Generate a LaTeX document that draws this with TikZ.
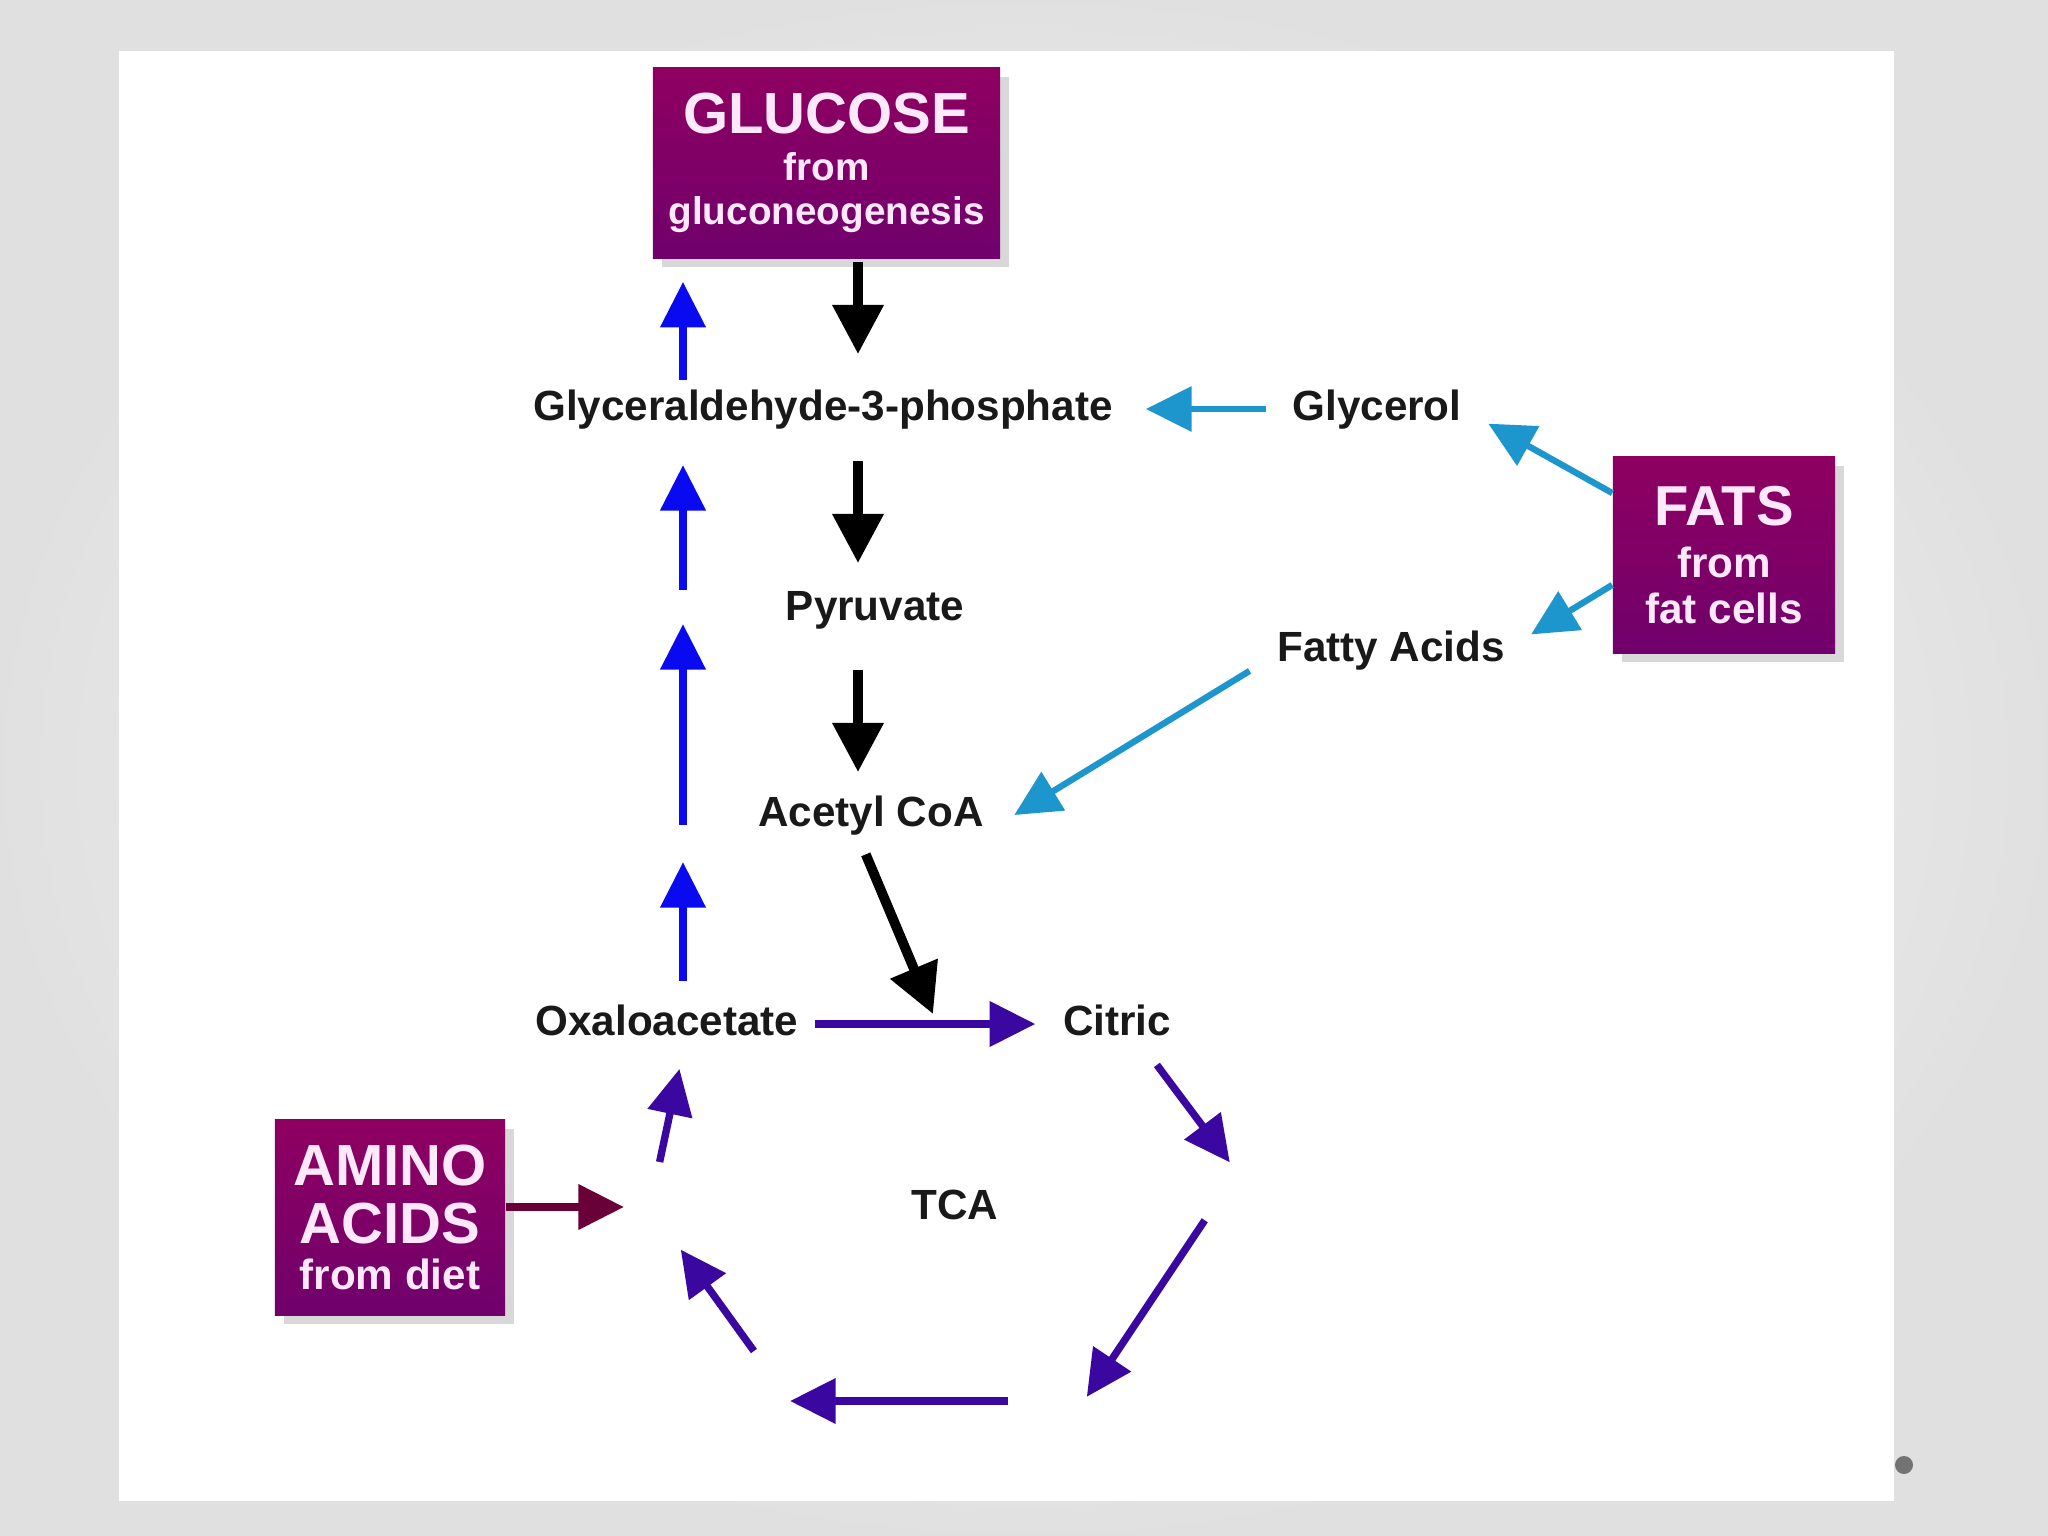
\documentclass[tikz,border=0pt]{standalone}
\usepackage{fontspec}
\setmainfont{Liberation Sans}
\usetikzlibrary{arrows.meta,shadows}

\definecolor{boxtop}{RGB}{142,0,96}
\definecolor{boxbot}{RGB}{112,0,108}
\definecolor{boxtext}{RGB}{255,232,250}
\definecolor{gnblue}{RGB}{10,10,240}
\definecolor{fatcyan}{RGB}{28,150,205}
\definecolor{tcaindigo}{RGB}{58,8,160}
\definecolor{aamaroon}{RGB}{105,0,55}

\begin{document}
\begin{tikzpicture}[x=0.01cm, y=-0.01cm, >={Triangle[length=13pt,width=12.5pt]},
  lbl/.style={font=\fontsize{12}{14}\selectfont\bfseries, text=black!90, inner sep=0pt, text height=9pt, text depth=2.5pt},
  pbox/.style={top color=boxtop, bottom color=boxbot, text=boxtext, align=center, inner sep=0pt,
    drop shadow={shadow xshift=2.5pt, shadow yshift=-2.5pt, opacity=0.3}},
  blk/.style={->, line width=2.8pt, black, >={Triangle[length=14pt,width=14pt]}},
  blu/.style={->, line width=2.3pt, gnblue},
  cyn/.style={->, line width=1.8pt, fatcyan},
  tcaarr/.style={->, line width=2.1pt, tcaindigo},
  aa/.style={->, line width=2.2pt, aamaroon}]
% slide background
\useasboundingbox (0,0) rectangle (2048,1536);
\shade[inner color=black!1, outer color=black!12] (0,0) rectangle (2048,1536);
\fill[white] (119,51) rectangle (1894,1501);
\fill[black!55] (1904,1465) circle (0.09cm);

% source boxes
\node[pbox, minimum width=3.47cm, minimum height=1.9cm, font=\fontsize{11}{12.5}\selectfont\bfseries] (glucose) at (826.5,163)
  {{\fontsize{16.5}{16.5}\selectfont GLUCOSE}\\[0.8pt]from\\gluconeogenesis};
\node[pbox, minimum width=2.22cm, minimum height=1.96cm, font=\fontsize{12}{13}\selectfont\bfseries] (fats) at (1724,555)
  {{\fontsize{16}{16}\selectfont FATS}\\[2pt]from\\fat cells};
\node[pbox, minimum width=2.3cm, minimum height=1.95cm, font=\fontsize{12}{13.3}\selectfont\bfseries] (amino) at (390,1217.5)
  {{\fontsize{16.5}{16.5}\selectfont AMINO}\\[3.2pt]{\fontsize{16.5}{16.5}\selectfont ACIDS}\\from diet};

% metabolites
\node[lbl] (g3p) at (823,409) {Glyceraldehyde-3-phosphate};
\node[lbl] (glycerol) at (1377,409) {Glycerol};
\node[lbl] (pyr) at (875,609) {Pyruvate};
\node[lbl] (fa) at (1391,650) {Fatty Acids};
\node[lbl] (accoa) at (871,815) {Acetyl CoA};
\node[lbl] (oxalo) at (667,1024) {Oxaloacetate};
\node[lbl] (citric) at (1117,1024) {Citric};
\node[lbl] (tca) at (955,1208) {TCA};

% helper points
\coordinate (blkx) at (858,0);
\coordinate (bluex) at (683,0);
\coordinate (gapA) at (683,843.5);
\coordinate (gapB) at (683,607);
\coordinate (join) at (933,1014);
\coordinate (v1) at (1237,1172);
\coordinate (v2) at (1084,1401);
\coordinate (v3) at (790,1401);
\coordinate (v4) at (650,1207);

% glycolysis
\draw[blk, shorten <=0.03cm, shorten >=0.34cm] (glucose.south -| blkx) -- (g3p.north -| blkx);
\draw[blk, shorten <=0.31cm, shorten >=0.25cm] (g3p.south -| blkx) -- (pyr.north -| blkx);
\draw[blk, shorten <=0.40cm, shorten >=0.22cm] (pyr.south -| blkx) -- (accoa.north -| blkx);
\draw[blk, shorten <=0.2cm] (accoa.south -| blkx) -- (join);

% gluconeogenesis
\draw[blu, shorten <=0.22cm, shorten >=0.185cm] (oxalo.north -| bluex) -- (gapA);
\draw[blu, shorten <=0.185cm, shorten >=0.17cm] (gapA) -- (gapB);
\draw[blu, shorten <=0.17cm, shorten >=0.35cm] (gapB) -- (g3p.south -| bluex);
\draw[blu, shorten <=0.08cm, shorten >=0.23cm] (g3p.north -| bluex) -- (glucose.south -| bluex);

% fats
\draw[cyn, shorten <=0.255cm, shorten >=0.325cm] (glycerol.west) -- (g3p.east);
\draw[cyn, shorten >=0.3cm] (fats.151) -- (glycerol.east);
\draw[cyn, shorten >=0.3cm] (fats.195) -- (fa.east);
\draw[cyn] ([xshift=-0.27cm]fa.south west) -- ([xshift=0.3cm]accoa.east);

% TCA cycle
\draw[tcaarr, shorten <=0.16cm, shorten >=0.27cm] (oxalo.east) -- (citric.west);
\draw[tcaarr, shorten <=0.25cm, shorten >=0.12cm] (citric.-40) -- (v1);
\draw[tcaarr, shorten <=0.58cm, shorten >=0.05cm] (v1) -- (v2);
\draw[tcaarr, shorten <=0.76cm] (v2) -- (v3);
\draw[tcaarr, shorten <=0.616cm, shorten >=0.525cm] (v3) -- (v4);
\draw[tcaarr, shorten <=0.46cm, shorten >=0.245cm] (v4) -- (oxalo.-50);
\draw[aa, shorten >=0.26cm] (amino.east |- v4) -- (v4);
\end{tikzpicture}
\end{document}
